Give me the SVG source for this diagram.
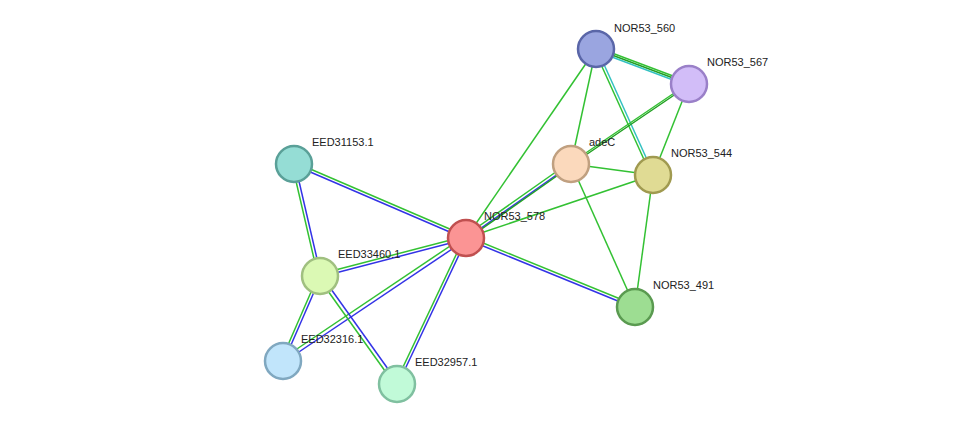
<svg xmlns="http://www.w3.org/2000/svg" width="976" height="430" viewBox="0 0 976 430">
<style>
.g{stroke:#33c133;stroke-width:1.5}
.b{stroke:#3333e6;stroke-width:1.5}
.c{stroke:#33c1c1;stroke-width:1.5}
.d{stroke:#22a022;stroke-width:1.5}
circle{stroke-width:2.5}
text{font-family:"Liberation Sans",Arial,sans-serif;font-size:11px;fill:#222}
</style>
<rect width="976" height="430" fill="#fff"/>
<g id="connectors">
<line class="g" x1="596" y1="47" x2="689" y2="82"/>
<line class="d" x1="596" y1="49" x2="689" y2="84"/>
<line class="c" x1="596" y1="51" x2="689" y2="86"/>
<line class="g" x1="594" y1="49" x2="651" y2="175"/>
<line class="c" x1="597" y1="49" x2="654" y2="175"/>
<line class="g" x1="596" y1="49" x2="571" y2="164"/>
<line class="g" x1="596" y1="49" x2="466" y2="238"/>
<line class="g" x1="689" y1="83" x2="571" y2="163"/>
<line class="d" x1="689" y1="85" x2="571" y2="165"/>
<line class="g" x1="689" y1="84" x2="653" y2="175"/>
<line class="g" x1="571" y1="164" x2="653" y2="175"/>
<line class="g" x1="570" y1="162" x2="465" y2="236"/>
<line class="b" x1="572" y1="164" x2="467" y2="238"/>
<line class="d" x1="571" y1="166" x2="466" y2="240"/>
<line class="g" x1="571" y1="164" x2="635" y2="307"/>
<line class="g" x1="653" y1="175" x2="466" y2="238"/>
<line class="g" x1="653" y1="175" x2="635" y2="307"/>
<line class="g" x1="466" y1="236" x2="635" y2="305"/>
<line class="b" x1="466" y1="239" x2="635" y2="308"/>
<line class="g" x1="294" y1="162" x2="466" y2="236"/>
<line class="b" x1="294" y1="165" x2="466" y2="239"/>
<line class="g" x1="320" y1="274" x2="466" y2="236"/>
<line class="b" x1="320" y1="277" x2="466" y2="239"/>
<line class="g" x1="282" y1="359" x2="465" y2="236"/>
<line class="b" x1="284" y1="362" x2="467" y2="239"/>
<line class="g" x1="395" y1="384" x2="464" y2="238"/>
<line class="b" x1="398" y1="384" x2="467" y2="238"/>
<line class="g" x1="292" y1="164" x2="318" y2="276"/>
<line class="b" x1="295" y1="164" x2="321" y2="276"/>
<line class="g" x1="318" y1="276" x2="281" y2="361"/>
<line class="b" x1="321" y1="276" x2="284" y2="361"/>
<line class="g" x1="318" y1="277" x2="395" y2="385"/>
<line class="b" x1="321" y1="275" x2="398" y2="383"/>
</g>
<g id="NOR53_560"><circle cx="596" cy="49" r="18" fill="#9aa5e0" stroke="#5a66a8"/><text x="614" y="32">NOR53_560</text></g>
<g id="NOR53_567"><circle cx="689" cy="84" r="18" fill="#d2bdf8" stroke="#9a80c8"/><text x="707" y="66">NOR53_567</text></g>
<g id="adeC"><circle cx="571" cy="164" r="18" fill="#fbd9bc" stroke="#c0a080"/><text x="589" y="146">adeC</text></g>
<g id="NOR53_544"><circle cx="653" cy="175" r="18" fill="#e0db94" stroke="#a09a50"/><text x="671" y="157">NOR53_544</text></g>
<g id="EED31153.1"><circle cx="294" cy="164" r="18" fill="#95ddd5" stroke="#5aa098"/><text x="312" y="146">EED31153.1</text></g>
<g id="NOR53_578"><circle cx="466" cy="238" r="18" fill="#fb9494" stroke="#c05050"/><text x="484" y="220">NOR53_578</text></g>
<g id="EED33460.1"><circle cx="320" cy="276" r="18" fill="#dbf9b4" stroke="#a0c080"/><text x="338" y="258">EED33460.1</text></g>
<g id="NOR53_491"><circle cx="635" cy="307" r="18" fill="#9ddd92" stroke="#5a9a50"/><text x="653" y="289">NOR53_491</text></g>
<g id="EED32316.1"><circle cx="283" cy="361" r="18" fill="#c1e5fb" stroke="#80a8c0"/><text x="301" y="343">EED32316.1</text></g>
<g id="EED32957.1"><circle cx="397" cy="384" r="18" fill="#c1fad8" stroke="#80c0a0"/><text x="415" y="366">EED32957.1</text></g>
</svg>
